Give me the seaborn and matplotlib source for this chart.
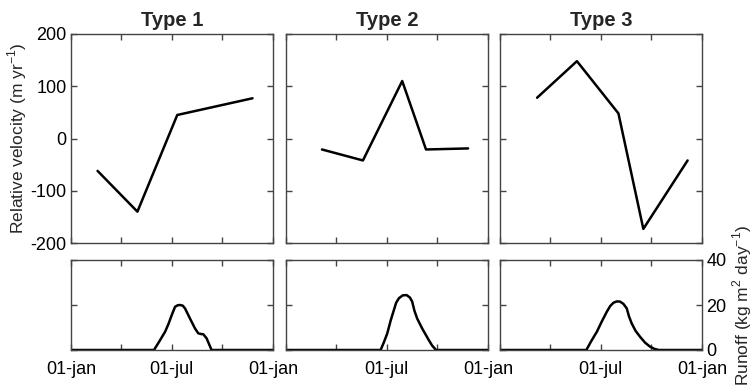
import matplotlib
matplotlib.use("Agg")
import matplotlib.pyplot as plt
import seaborn as sns
import pandas as pd
import numpy as np

sns.set_theme(style="white")
plt.rcParams['font.family'] = ['Liberation Sans', 'DejaVu Sans']
plt.rcParams['mathtext.fontset'] = 'custom'
plt.rcParams['mathtext.rm'] = 'Liberation Sans'

titles = ["Type 1", "Type 2", "Type 3"]

# Relative velocity (day of year, m/yr)
vel_day = [
    [48, 120, 192, 328],
    [65, 139, 210, 253, 329],
    [67, 139, 214, 259, 339],
]
vel_val = [
    [-62, -140, 45, 77],
    [-21, -42, 110, -21, -19],
    [78, 148, 48, -173, -42],
]

# Runoff (day of year, kg m2 day-1)
run_day = [
    [0, 150, 160, 170, 176, 182, 188, 193, 197, 202, 206, 215, 224, 230, 235, 239, 245, 254, 365],
    [0, 171, 177, 183, 189, 195, 199, 204, 211, 218, 224, 228, 232, 237, 246, 252, 258, 264, 271, 365],
    [0, 156, 165, 175, 184, 193, 199, 205, 211, 217, 223, 229, 233, 238, 245, 253, 262, 271, 279, 287, 365],
]
run_val = [
    [0, 0, 4, 8.1, 11.5, 15.5, 19.2, 19.9, 20, 19.7, 18.5, 14, 9.6, 7.4, 7.1, 7, 5.2, 0, 0],
    [0, 0, 3.5, 7.4, 13, 17.8, 21, 23, 24.3, 24.4, 23.3, 21.5, 17.5, 14, 9.6, 7, 4.4, 2, 0, 0],
    [0, 0, 4, 8.1, 12.7, 17, 19.5, 21, 21.6, 21.5, 20.5, 18.5, 15, 11.8, 8.5, 5.9, 3.3, 1.5, 0.5, 0, 0],
]

xtick_pos = [0, 91, 182, 273, 365]
vel_ticks = [-200, -100, 0, 100, 200]
run_ticks = [0, 20, 40]

W, H = 753, 388
fig = plt.figure(figsize=(W / 100, H / 100), dpi=100)

lefts = [71, 286, 500]
pw = 202
top_y0, top_y1 = 34, 243
bot_y0, bot_y1 = 260, 350

spine_col = "#444444"
fs = 13

def style(ax):
    for s in ax.spines.values():
        s.set_color(spine_col)
        s.set_linewidth(1.0)
        s.set_visible(True)
    ax.tick_params(direction="in", length=4.5, width=1.0, color=spine_col,
                   top=True, right=True, bottom=True, left=True,
                   labelsize=fs, pad=3, labelcolor="black")
    ax.tick_params(axis="x", pad=8)
    ax.set_facecolor("white")
    ax.grid(False)

for i in range(3):
    L = lefts[i]
    axt = fig.add_axes([L / W, 1 - top_y1 / H, pw / W, (top_y1 - top_y0) / H])
    axb = fig.add_axes([L / W, 1 - bot_y1 / H, pw / W, (bot_y1 - bot_y0) / H])

    dft = pd.DataFrame({"day": vel_day[i], "vel": vel_val[i]})
    sns.lineplot(data=dft, x="day", y="vel", ax=axt, color="black", lw=1.8, sort=False)
    dfb = pd.DataFrame({"day": run_day[i], "runoff": run_val[i]})
    sns.lineplot(data=dfb, x="day", y="runoff", ax=axb, color="black", lw=1.8, sort=False)

    for ax in (axt, axb):
        style(ax)
        ax.set_xlim(0, 365)
        ax.set_xticks(xtick_pos)
        ax.set_xlabel("")
        ax.set_ylabel("")

    axt.set_ylim(-200, 200)
    axt.set_yticks(vel_ticks)
    axt.set_xticklabels([])
    axt.set_title(titles[i], fontsize=14.5, fontweight="bold", pad=6)

    axb.set_ylim(0, 40)
    axb.set_yticks(run_ticks)
    if i == 0:
        axb.set_xticklabels(["01-jan", "", "01-jul", "", "01-jan"])
    else:
        axb.set_xticklabels(["", "", "01-jul", "", "01-jan"])

    if i == 0:
        axt.set_yticklabels([str(v) for v in vel_ticks])
        axt.set_ylabel("Relative velocity (m yr$^{-1}$)", fontsize=12.5, labelpad=1)
    else:
        axt.set_yticklabels([])
    axb.set_yticklabels([])
    if i == 2:
        axb.yaxis.set_label_position("right")
        axb.tick_params(labelright=True, labelleft=False)
        axb.set_yticklabels([str(v) for v in run_ticks])
        axb.set_ylabel("Runoff (kg m$^2$ day$^{-1}$)", fontsize=12.5, labelpad=3)

fig.savefig("out.png", dpi=100, facecolor="white")
